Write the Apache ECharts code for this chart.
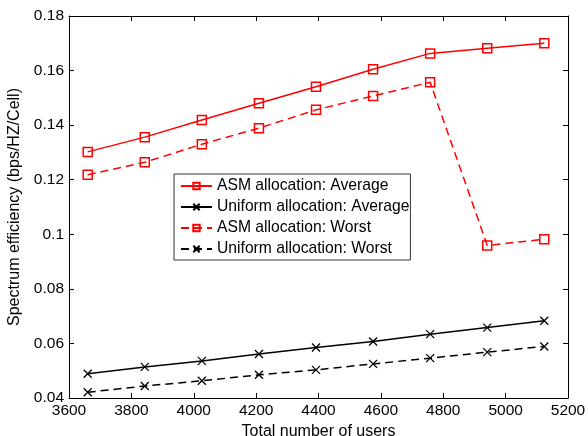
<!DOCTYPE html>
<html><head><meta charset="utf-8">
<script src="https://cdn.jsdelivr.net/npm/echarts@6/dist/echarts.min.js"></script>
<style>html,body{margin:0;padding:0;background:#fff}#c{width:588px;height:436px}</style>
</head><body><div id="c"></div>
<script>
const users = [3660, 3843, 4026, 4209, 4392, 4575, 4758, 4941, 5124];
const asmAverage = [0.1302, 0.1356, 0.1419, 0.1480, 0.1541, 0.1605, 0.1663, 0.1682, 0.1700];
const uniformAverage = [0.0489, 0.0514, 0.0536, 0.0561, 0.0585, 0.0607, 0.0634, 0.0658, 0.0683];
const asmWorst = [0.1218, 0.1264, 0.1330, 0.1389, 0.1456, 0.1507, 0.1557, 0.0959, 0.0982];
const uniformWorst = [0.0421, 0.0444, 0.0463, 0.0485, 0.0503, 0.0525, 0.0546, 0.0568, 0.0589];
const seriesNames = ['ASM allocation: Average', 'Uniform allocation: Average', 'ASM allocation: Worst', 'Uniform allocation: Worst'];

const FONT = '"Liberation Sans", Arial, sans-serif';
const crossPath = 'path://M0,0L10,10M10,0L0,10';
function pts(ys){ return users.map((x,i)=>[x, ys[i]]); }
function mk(name, ys, color, dashed, isSquare){
  return {
    name, type:'line', data: pts(ys),
    symbol: isSquare ? 'rect' : crossPath,
    symbolSize: isSquare ? 9 : 8,
    showSymbol: true,
    lineStyle:{color, width:1.5, type: dashed ? [8,5] : 'solid'},
    itemStyle: isSquare ? {color:'rgba(255,255,255,0)', borderColor:color, borderWidth:1.5}
                        : {color:color, borderColor:color, borderWidth:1.3},
    animation:false, z: isSquare ? 3 : 2
  };
}
const chart = echarts.init(document.getElementById('c'));
const axisCommon = {
  axisLine:{show:true, lineStyle:{color:'#000', width:1}},
  axisTick:{show:true, inside:true, length:5, lineStyle:{color:'#000'}},
  splitLine:{show:false}
};
chart.setOption({
  animation:false,
  backgroundColor:'#fff',
  grid:{left:69, top:16, right:20, bottom:38, containLabel:false, outerBoundsMode:'none'},
  legend:{
    orient:'vertical', left:174, top:174,
    data: seriesNames,
    itemWidth:31, itemHeight:8, itemGap:5,
    padding:[4,1,3,6],
    borderColor:'#333', borderWidth:1, backgroundColor:'#fff',
    textStyle:{fontFamily:FONT, fontSize:15.7, lineHeight:16, color:'#000', padding:[0,0,0,0]}
  },
  xAxis:[
    Object.assign({type:'value', min:3600, max:5200, interval:200,
      name:'Total number of users', nameLocation:'middle', nameGap:23,
      nameTextStyle:{fontFamily:FONT, fontSize:16, color:'#000'},
      axisLabel:{fontFamily:FONT, fontSize:15.5, color:'#000', margin:5, formatter:v=>String(v)}}, axisCommon),
    Object.assign({type:'value', min:3600, max:5200, interval:200, position:'top',
      axisLabel:{show:false}}, axisCommon)
  ],
  yAxis:[
    Object.assign({type:'value', min:0.04, max:0.18, interval:0.02,
      name:'Spectrum efficiency (bps/HZ/Cell)', nameLocation:'middle', nameGap:41,
      nameTextStyle:{fontFamily:FONT, fontSize:16, color:'#000'},
      axisLabel:{fontFamily:FONT, fontSize:15.5, color:'#000', margin:5,
        formatter:v=>String(+v.toFixed(2))}}, axisCommon),
    Object.assign({type:'value', min:0.04, max:0.18, interval:0.02, position:'right',
      axisLabel:{show:false}}, axisCommon)
  ],
  series:[
    mk(seriesNames[0], asmAverage, '#ff0000', false, true),
    mk(seriesNames[1], uniformAverage, '#000000', false, false),
    mk(seriesNames[2], asmWorst, '#ff0000', true, true),
    mk(seriesNames[3], uniformWorst, '#000000', true, false)
  ]
});
</script></body></html>
